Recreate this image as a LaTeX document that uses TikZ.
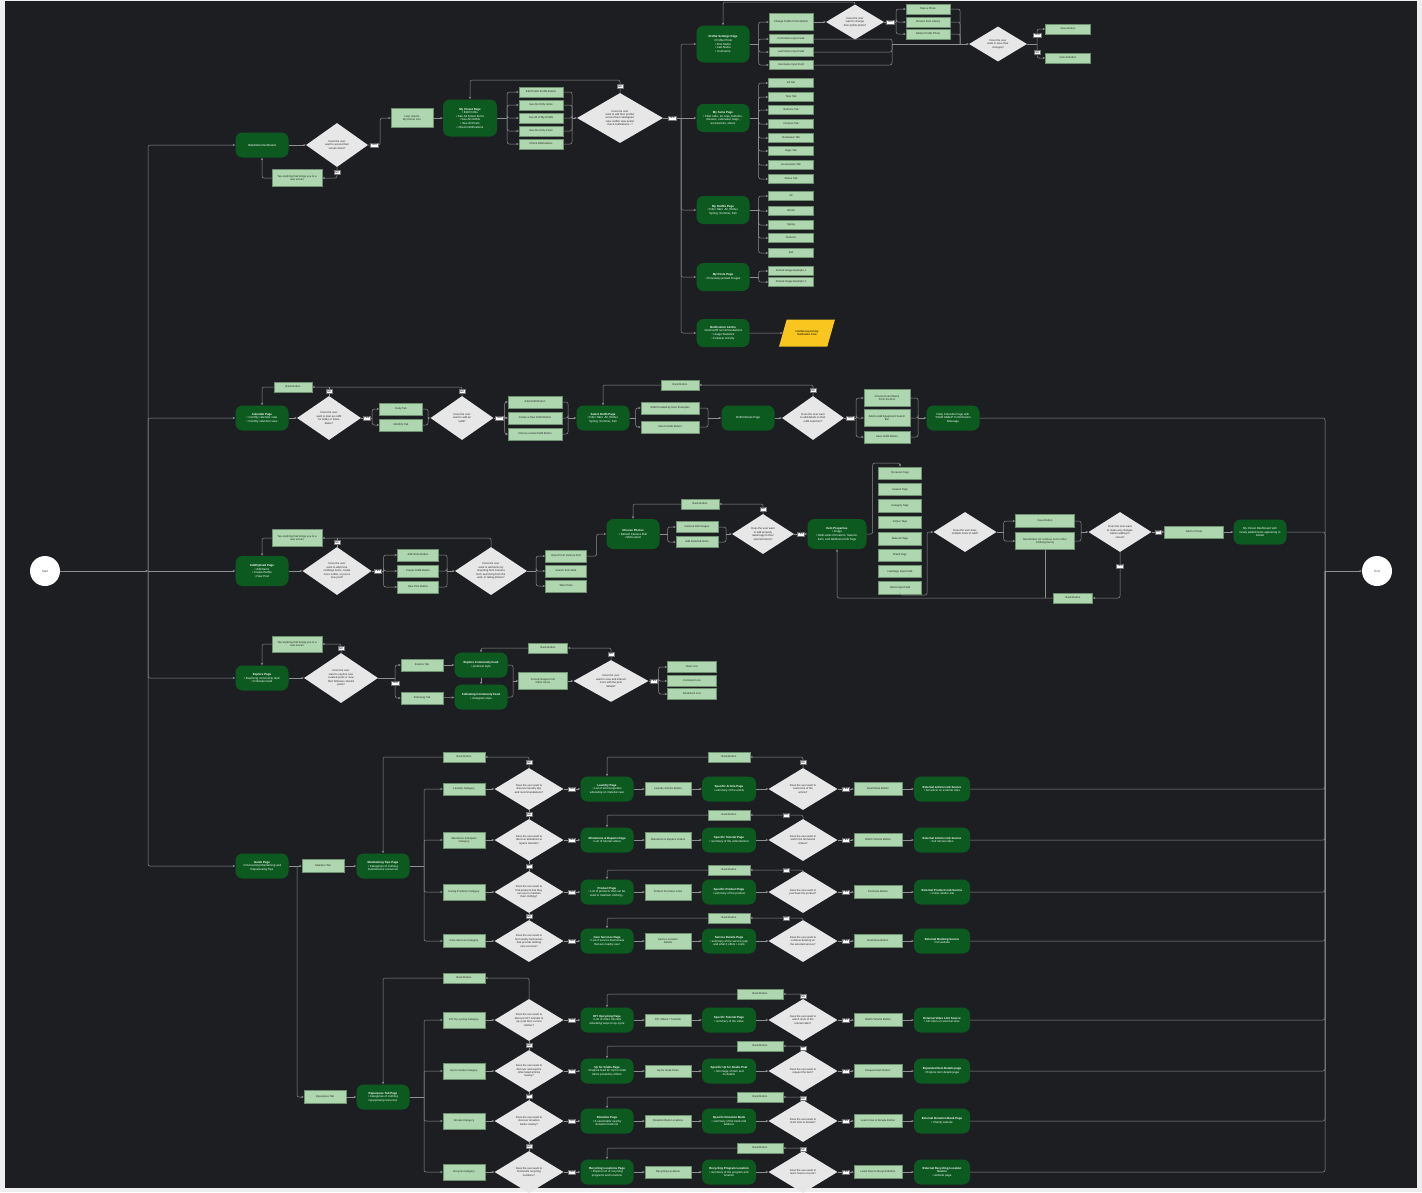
\documentclass[tikz,border=0pt]{standalone}
\usepackage{fontspec}
\setmainfont{Liberation Sans}
\usepackage{tikz}
\usetikzlibrary{shapes.geometric, arrows.meta, positioning}
\definecolor{BgDark}{HTML}{1D1E22}
\definecolor{EdgeLight}{HTML}{EEEEEE}
\definecolor{PageGreen}{HTML}{0C5A20}
\definecolor{BtnGreen}{HTML}{AED6AF}
\definecolor{BtnEdge}{HTML}{6F9171}
\definecolor{AskGray}{HTML}{E7E7E7}
\definecolor{LineGray}{HTML}{8F8F8F}
\definecolor{FlagYellow}{HTML}{F8C61E}

\begin{document}
\begin{tikzpicture}[
    x=1pt, y=-1pt,
    % Dark green screens
    page/.style = {
        rectangle, rounded corners=7pt, fill=PageGreen, text=white,
        align=center, font=\fontsize{2.9}{3.6}\selectfont,
        minimum width=53pt, minimum height=25pt, inner sep=1pt
    },
    % Light green buttons, tabs and categories
    btn/.style = {
        rectangle, fill=BtnGreen, draw=BtnEdge, line width=0.4pt,
        align=center, font=\fontsize{2.7}{3.3}\selectfont, text=black!85,
        minimum width=44pt, minimum height=10pt, inner sep=0.5pt
    },
    tagbox/.style = {btn, minimum width=43pt, minimum height=12.5pt},
    % Decisions
    ask/.style = {
        diamond, fill=AskGray, align=center, text=black!85,
        font=\fontsize{2.7}{3.4}\selectfont,
        minimum width=69pt, minimum height=42pt, inner sep=0pt
    },
    % YES / NO tags sitting on the connectors
    yn/.style = {
        rectangle, sharp corners, fill=white, draw=black!55, line width=0.3pt,
        font=\fontsize{2.6}{3}\selectfont, inner xsep=1pt, inner ysep=1.1pt, text=black
    },
    ends/.style = {circle, fill=white, minimum size=30pt, inner sep=0pt,
        font=\fontsize{3}{3.6}\selectfont, text=black!70},
    flag/.style = {
        trapezium, trapezium left angle=65, trapezium right angle=115,
        trapezium stretches=true, fill=FlagYellow, align=center,
        font=\fontsize{2.7}{3.3}\selectfont, minimum width=56pt, minimum height=27pt
    },
    arr/.style = {-{Stealth[length=2.6pt, width=2.2pt]}, line width=0.5pt,
        draw=LineGray, rounded corners=2pt},
    link/.style = {line width=0.5pt, draw=LineGray, rounded corners=2pt},
]

% --- 0. CANVAS ---
\fill[EdgeLight] (0,0) rectangle (1422,1192);
\fill[BgDark] (5,1) rectangle (1417,1188);
\useasboundingbox (0,0) rectangle (1422,1192);

% --- 1. START / END ---
\node[ends] (start) at (45,571) {Start};
\node[ends] (finish) at (1377,571) {End};
\coordinate (hubL) at (148,571);
\coordinate (hubR) at (1325,571);

% --- 2. CLOSET FLOW ---
\node[page] (wardrobe) at (262,145) {Wardrobe Dashboard};
\node[ask, minimum width=62pt, minimum height=44pt] (qcloset) at (337,145) {Does the user\\want to access their\\virtual closet?};
\node[btn, minimum width=42pt, minimum height=19pt] (pickcloset) at (412,118) {User selects\\My Closet Icon};
\node[btn, minimum width=50pt, minimum height=17pt] (tapdash) at (297,178) {Tap anything that brings you to a\\new screen};
\node[page, minimum width=54pt, minimum height=37pt] (closet) at (470,118) {\textbf{My Closet Page}\\• Edit Profile\\• See All Closet Items\\• See All Outfits\\• See All Posts\\• Check Notifications};
\node[btn, minimum height=9.5pt] (editbtn) at (541,92) {Edit Profile Profile Button};
\node[btn, minimum height=9.5pt] (itemsbtn) at (541,105) {See All of My Items};
\node[btn, minimum height=9.5pt] (outfitsbtn) at (541,118) {See All of My Outfits};
\node[btn, minimum height=9.5pt] (postsbtn) at (541,131) {See All of My Posts};
\node[btn, minimum height=9.5pt] (notifbtn) at (541,144) {Check Notifications};
\node[ask, minimum width=86pt, minimum height=50pt] (qmenu) at (620,118) {Does the user\\want to edit their profile/\\access their catalogues/\\view outfits/ view posts/\\check notifications...?};
\coordinate (menuloop) at (620,80);
\coordinate (menuhub) at (681,118);
\coordinate (closetjoin) at (572,118);

% Profile settings
\node[page, minimum height=37pt] (profile) at (723,44) {\textbf{Profile Settings Page}\\• Profile Photo\\• First Name\\• Last Name\\• Username};
\node[btn, minimum height=17pt] (photobtn) at (791,22) {Change Profile Photo Button};
\node[btn, minimum height=9pt] (firstname) at (791,39) {First Name Input Field};
\node[btn, minimum height=9pt] (lastname) at (791,52) {Last Name Input Field};
\node[btn, minimum height=9pt] (username) at (791,65) {Username Input Field};
\node[ask, minimum width=58pt, minimum height=35pt] (qphoto) at (855,22) {Does the user\\want to change\\their profile photo?};
\node[btn, minimum height=10pt] (takephoto) at (928,9) {Take a Photo};
\node[btn, minimum height=10pt] (library) at (928,22) {Choose from Library};
\node[btn, minimum height=10pt] (delphoto) at (928,34) {Delete Profile Photo};
\node[ask, minimum width=58pt, minimum height=35pt] (qsave) at (998,44) {Does the user\\want to save their\\changes?};
\node[btn, minimum width=45pt, minimum height=9.5pt] (savebtn) at (1068,29) {Save Button};
\node[btn, minimum width=45pt, minimum height=9.5pt] (cancelbtn) at (1068,58) {Cancel Button};
\coordinate (photoloop) at (855,2);
\coordinate (photojoin) at (960,44);
\coordinate (fieldjoin) at (892,44);

% Catalogue pages
\node[page, minimum height=28pt] (items) at (723,118) {\textbf{My Items Page}\\• Filter tabs: all, tops, bottoms,\\dresses, outerwear, bags,\\accessories, shoes};
\node[btn, minimum width=45pt, minimum height=9pt] (alltab) at (791,83) {All Tab};
\node[btn, minimum width=45pt, minimum height=9pt] (topstab) at (791,97) {Tops Tab};
\node[btn, minimum width=45pt, minimum height=9pt] (bottomstab) at (791,110) {Bottoms Tab};
\node[btn, minimum width=45pt, minimum height=9pt] (dresstab) at (791,124) {Dresses Tab};
\node[btn, minimum width=45pt, minimum height=9pt] (outertab) at (791,138) {Outerwear Tab};
\node[btn, minimum width=45pt, minimum height=9pt] (bagstab) at (791,151) {Bags Tab};
\node[btn, minimum width=45pt, minimum height=9pt] (accesstab) at (791,165) {Accessories Tab};
\node[btn, minimum width=45pt, minimum height=9pt] (shoestab) at (791,179) {Shoes Tab};

\node[page, minimum height=28pt] (outfits) at (723,210) {\textbf{My Outfits Page}\\• Filter Tabs: All, Winter,\\Spring, Summer, Fall};
\node[btn, minimum width=45pt, minimum height=9pt] (fitall) at (791,196) {All};
\node[btn, minimum width=45pt, minimum height=9pt] (fitwinter) at (791,211) {Winter};
\node[btn, minimum width=45pt, minimum height=9pt] (fitspring) at (791,225) {Spring};
\node[btn, minimum width=45pt, minimum height=9pt] (fitsummer) at (791,238) {Summer};
\node[btn, minimum width=45pt, minimum height=9pt] (fitfall) at (791,253) {Fall};

\node[page, minimum height=28pt] (posts) at (723,277) {\textbf{My Posts Page}\\• Previously posted images};
\node[btn, minimum width=45pt, minimum height=9pt] (postex1) at (791,271) {Posted Image Example 1};
\node[btn, minimum width=45pt, minimum height=9pt] (postex2) at (791,282) {Posted Image Example 2};

\node[page, minimum height=28pt] (notif) at (723,333) {\textbf{Notification Centre}\\• Item/outfit recommendations\\• Usage Statistics\\• Follower Activity};
\node[flag] (notifflow) at (807,333) {Interface/upcoming\\Notification Flow};

% --- 3. CALENDAR FLOW ---
\node[page] (calendar) at (262,418) {\textbf{Calendar Page}\\• monthly calendar view\\• monthly selection view};
\node[ask, minimum width=64pt, minimum height=44pt] (qplan) at (329,418) {Does the user\\want to plan an outfit\\for today or future\\dates?};
\node[btn, minimum width=38pt] (calback) at (293,387) {Back Button};
\node[btn, minimum width=43pt, minimum height=12pt] (dailytab) at (401,409) {Daily Tab};
\node[btn, minimum width=43pt, minimum height=12pt] (monthtab) at (401,425) {Monthly Tab};
\node[ask, minimum width=63pt, minimum height=44pt] (qaddfit) at (462,418) {Does the user\\want to add an\\outfit?};
\node[btn, minimum width=54pt, minimum height=12pt] (addfit) at (535,402) {Add Outfit Button};
\node[btn, minimum width=54pt, minimum height=12pt] (createfit) at (535,418) {Create a New Outfit Button};
\node[btn, minimum width=54pt, minimum height=12pt] (choosefit) at (535,434) {Choose a New Outfit Button};
\node[page] (selfit) at (603,418) {\textbf{Select Outfit Page}\\• Filter Tabs: All, Winter,\\Spring, Summer, Fall};
\node[btn, minimum width=58pt, minimum height=12pt] (userfits) at (670,408) {Outfit Created by User Examples};
\node[btn, minimum width=58pt, minimum height=12pt] (selfitbtn) at (670,427) {Select Outfit Button};
\node[btn, minimum width=38pt] (fitback) at (680,385) {Back Button};
\node[page] (fitdetail) at (748,418) {Outfit Details Page};
\node[ask, minimum width=62pt, minimum height=44pt] (qdetail) at (813,418) {Does the user want\\to add details to their\\outfit selection?};
\node[btn, minimum width=46pt, minimum height=17pt] (eventname) at (887,398) {Choose Event Name\\Fill in the Box};
\node[btn, minimum width=46pt, minimum height=17pt] (equipment) at (887,418) {Add to Add Equipment Search\\Bar};
\node[btn, minimum width=46pt, minimum height=12pt] (savefit) at (887,437) {Save Outfit Button};
\node[page] (dailycal) at (953,418) {Daily Calendar Page with\\``Outfit Added'' Confirmation\\Message};
\coordinate (planjoin) at (428,418);
\coordinate (addjoin) at (568,418);
\coordinate (fitjoin) at (708,418);
\coordinate (detailjoin) at (918,418);

% --- 4. ADD / UPLOAD FLOW ---
\node[page, minimum height=30pt] (addpage) at (262,571) {\textbf{Add/Upload Page}\\• Add Items\\• Create Outfits\\• New Post};
\node[btn, minimum width=50pt, minimum height=17pt] (tapadd) at (297,538) {Tap anything that brings you to a\\new screen};
\node[ask, minimum width=69pt, minimum height=48pt] (qadd) at (337,571) {Does the user\\want to add more\\clothings items, create\\more outfits, or post a\\new post?};
\node[btn, minimum width=41pt, minimum height=12pt] (additems) at (418,555) {Add Items Button};
\node[btn, minimum width=41pt, minimum height=12pt] (createoutfit) at (418,571) {Create Outfit Button};
\node[btn, minimum width=41pt, minimum height=12pt] (newpost) at (418,587) {New Post Button};
\node[ask, minimum width=72pt, minimum height=48pt] (qsource) at (491,571) {Does the user\\want to add items by\\importing from Camera\\Roll, searching from the\\web, or taking photos?};
\node[btn, minimum width=41pt, minimum height=12pt] (camroll) at (566,556) {Import from Camera Roll};
\node[btn, minimum width=41pt, minimum height=12pt] (websearch) at (566,571) {Search from Web};
\node[btn, minimum width=41pt, minimum height=12pt] (takepic) at (566,586) {Take Photo};
\node[page, minimum height=30pt] (photos) at (633,534) {\textbf{Choose Photos}\\• Default Camera Roll\\• Multi-select};
\node[btn, minimum width=42pt, minimum height=11pt] (rollimgs) at (697,527) {Camera Roll Images};
\node[btn, minimum width=42pt, minimum height=11pt] (addsel) at (697,542) {Add Selected Items};
\node[btn, minimum width=38pt] (photoback) at (700,504) {Back Button};
\node[ask, minimum width=62pt, minimum height=40pt] (qtags) at (763,534) {Does the user want\\to add property\\detail tags to their\\selected items?};
\node[page, minimum width=59pt, minimum height=30pt] (props) at (837,534) {\textbf{Item Properties}\\• Image\\• Multi-select Occasion, Season,\\Item, and Additional Info Tags};
\node[tagbox] (occtag) at (900,473) {Occasion Tags};
\node[tagbox, below=3.5pt of occtag] (seasontag) {Season Tags};
\node[tagbox, below=3.5pt of seasontag] (cattag) {Category Tags};
\node[tagbox, below=3.5pt of cattag] (colourtag) {Colour Tags};
\node[tagbox, below=3.5pt of colourtag] (materialtag) {Material Tags};
\node[tagbox, below=3.5pt of materialtag] (brandtag) {Brand Tags};
\node[tagbox, below=3.5pt of brandtag] (hashtag) {Hashtags Input Field};
\node[tagbox, below=3.5pt of hashtag] (notestag) {Notes Input Field};
\node[ask, minimum width=63pt, minimum height=40pt] (qmore) at (965,532) {Does the user have\\multiple items to add?};
\node[btn, minimum width=59pt, minimum height=13pt] (saveitem) at (1045,521) {Save Button};
\node[btn, minimum width=59pt, minimum height=17pt] (nextitem) at (1045,541) {Next Button (to continue on for other\\Clothing Items)};
\node[ask, minimum width=63pt, minimum height=40pt] (qchange) at (1120,532) {Does the user want\\to make any changes\\before adding to\\closet?};
\node[btn, minimum width=59pt, minimum height=12pt] (tocloset) at (1194,532) {Add to Closet};
\node[page] (closetdash) at (1260,532) {My Closet Dashboard with\\newly added items appearing in\\Closet};
\node[btn, minimum width=39pt] (itemback) at (1073,598) {Back Button};
\coordinate (srcjoin) at (447,571);
\coordinate (rolljoin) at (726,534);
\coordinate (tagtop) at (900,463);
\coordinate (tagbottom) at (927,595);
\coordinate (changejoin) at (1081,532);

% --- 5. EXPLORE FLOW ---
\node[page] (explore) at (262,678) {\textbf{Explore Page}\\• Exploring community feed\\• Followers feed};
\node[btn, minimum width=50pt, minimum height=16pt] (tapexp) at (297,644) {Tap anything that brings you to a\\new screen};
\node[ask, minimum width=74pt, minimum height=50pt] (qexplore) at (341,678) {Does the user\\want to explore new\\curated posts or view\\their followers shared\\posts?};
\node[btn, minimum width=42pt, minimum height=12pt] (exptab) at (422,665) {Explore Tab};
\node[btn, minimum width=42pt, minimum height=12pt] (foltab) at (422,698) {Following Tab};
\node[page] (expfeed) at (481,665) {\textbf{Explore Community Feed}\\• pinterest style};
\node[page] (folfeed) at (481,697) {\textbf{Following Community Feed}\\• instagram style};
\node[btn, minimum width=49pt, minimum height=17pt] (posted) at (543,681) {Posted Images from\\Other Users};
\node[ask, minimum width=75pt, minimum height=40pt] (qpost) at (611,681) {Does the user\\want to view and interact\\more with the post\\details?};
\node[btn, minimum width=39pt] (postback) at (548,648) {Back Button};
\node[btn, minimum width=49pt, minimum height=11pt] (heart) at (692,667) {Heart Icon};
\node[btn, minimum width=49pt, minimum height=11pt] (comment) at (692,681) {Comment Icon};
\node[btn, minimum width=49pt, minimum height=11pt] (bookmark) at (692,694) {Bookmark Icon};
\coordinate (feedjoin) at (513,681);

% --- 6. GUIDE: MAINTAIN ---
\node[page] (guide) at (262,866) {\textbf{Guide Page}\\• Discovering Maintaining and\\Repurposing Tips};
\node[btn, minimum width=42pt, minimum height=13pt] (maintab) at (323,866) {Maintain Tab};
\node[page] (maintain) at (383,866) {\textbf{Maintaining Tips Page}\\• Categories of clothing\\maintenance resources};
\node[btn, minimum width=42pt] (maintback) at (464,757) {Back Button};
\coordinate (guidehub) at (297,866);
\coordinate (mainhub) at (424,866);

\node[btn, minimum width=42pt, minimum height=12pt] (laundrycat) at (464,789) {Laundry Category};
\node[ask] (qlaundry) at (529,789) {Does the user want to\\discover laundry tips\\and recommendations?};
\node[page] (laundry) at (607,789) {\textbf{Laundry Page}\\• List of articles/guides\\educating on material care};
\node[btn, minimum width=46pt, minimum height=13pt] (laundrybtn) at (668,789) {Laundry Articles Button};
\node[page, minimum width=54pt] (article) at (729,789) {\textbf{Specific Article Page}\\• summary of the article};
\node[btn, minimum width=42pt] (articleback) at (729,757) {Back Button};
\node[ask] (qarticle) at (803,789) {Does the user want to\\read more of the\\article?};
\node[btn, minimum width=48pt, minimum height=13pt] (readmore) at (878,789) {Read More Button};
\node[page, minimum width=56pt] (extarticle) at (942,789) {\textbf{External Article Link Source}\\• full article on external sites};

\node[btn, minimum width=42pt, minimum height=16pt] (altercat) at (464,840) {Alterations \& Repairs\\Category};
\node[ask] (qalter) at (529,840) {Does the user want to\\discover alterations \&\\repairs tutorials?};
\node[page] (alter) at (607,840) {\textbf{Alterations \& Repairs Page}\\• List of tutorial videos};
\node[btn, minimum width=46pt, minimum height=16pt] (alterbtn) at (668,840) {Alterations \& Repairs Videos};
\node[page, minimum width=54pt] (tutorial) at (729,840) {\textbf{Specific Tutorial Page}\\• summary of the video/tutorial};
\node[btn, minimum width=42pt] (tutorialback) at (729,815) {Back Button};
\node[ask] (qtutorial) at (803,840) {Does the user want to\\watch the full tutorial\\videos?};
\node[btn, minimum width=48pt, minimum height=13pt] (watchbtn) at (878,840) {Watch Tutorial Button};
\node[page, minimum width=56pt] (exttutorial) at (942,840) {\textbf{External Article Link Source}\\• full tutorial video};

\node[btn, minimum width=42pt, minimum height=16pt] (productcat) at (464,892) {Caring Products Category};
\node[ask] (qproduct) at (529,892) {Does the user want to\\find products that they\\can use to maintain\\their clothing?};
\node[page] (product) at (607,892) {\textbf{Product Page}\\• List of products that can be\\used to maintain clothing...};
\node[btn, minimum width=46pt, minimum height=16pt] (productbtn) at (668,892) {Product Purchase Links};
\node[page, minimum width=54pt] (specproduct) at (729,892) {\textbf{Specific Product Page}\\• summary of the product};
\node[btn, minimum width=42pt] (productback) at (729,870) {Back Button};
\node[ask] (qbuy) at (803,892) {Does the user want to\\purchase the product?};
\node[btn, minimum width=48pt, minimum height=13pt] (buybtn) at (878,892) {Purchase Button};
\node[page, minimum width=56pt] (extproduct) at (942,892) {\textbf{External Product Link Source}\\• online retailer site};

\node[btn, minimum width=42pt, minimum height=13pt] (servicecat) at (464,941) {Care Services Category};
\node[ask] (qservice) at (529,941) {Does the user want to\\find nearby businesses\\that provide clothing\\care services?};
\node[page] (service) at (607,941) {\textbf{Care Services Page}\\• List of service businesses\\that are nearby user};
\node[btn, minimum width=46pt, minimum height=16pt] (servicebtn) at (668,941) {Service Location\\Details};
\node[page, minimum width=54pt] (specservice) at (729,941) {\textbf{Service Details Page}\\• summary of the service type\\and what it offers / costs};
\node[btn, minimum width=42pt] (serviceback) at (729,918) {Back Button};
\node[ask] (qbook) at (803,941) {Does the user want to\\continue booking on\\the selected service?};
\node[btn, minimum width=48pt, minimum height=13pt] (bookbtn) at (878,941) {Book Now Button};
\node[page, minimum width=56pt] (extbook) at (942,941) {\textbf{External Booking Source}\\• full website};

% --- 7. GUIDE: REPURPOSE ---
\node[btn, minimum width=42pt, minimum height=13pt] (reptab) at (325,1097) {Repurpose Tab};
\node[page] (repurpose) at (383,1097) {\textbf{Repurpose Tab Page}\\• Categories of clothing\\repurposing resources};
\node[btn, minimum width=42pt] (repback) at (464,978) {Back Button};
\coordinate (rephub) at (424,1097);

\node[btn, minimum width=42pt, minimum height=16pt] (diycat) at (464,1020) {DIY Up-cycling Category};
\node[ask] (qdiy) at (529,1020) {Does the user want to\\discover DIY tutorials to\\up-cycle their current\\clothes?};
\node[page] (diy) at (607,1020) {\textbf{DIY Upcycling Page}\\• List of video tutorials\\educating ways to up-cycle};
\node[btn, minimum width=46pt, minimum height=12pt] (diybtn) at (668,1020) {DIY Videos / Tutorials};
\node[page, minimum width=54pt] (diytut) at (729,1020) {\textbf{Specific Tutorial Page}\\• summary of the video};
\node[btn, minimum width=46pt] (diyback) at (760,994) {Back Button};
\node[ask] (qdiytut) at (803,1020) {Does the user want to\\watch more of the\\tutorial video?};
\node[btn, minimum width=48pt, minimum height=13pt] (diywatch) at (878,1020) {Watch Tutorial Button};
\node[page, minimum width=56pt] (extvideo) at (942,1020) {\textbf{External Video Link Source}\\• full video on external sites};

\node[btn, minimum width=42pt, minimum height=16pt] (grabcat) at (464,1071) {Up for Grabs Category};
\node[ask] (qgrab) at (529,1071) {Does the user want to\\discover and explore\\other listed articles\\nearby?};
\node[page] (grab) at (607,1071) {\textbf{Up for Grabs Page}\\• Explore feed for Up for Grab\\Items posted by others};
\node[btn, minimum width=46pt, minimum height=12pt] (grabbtn) at (668,1071) {Up for Grab Posts};
\node[page, minimum width=54pt] (grabpost) at (729,1071) {\textbf{Specific Up for Grabs Post}\\• full image of item and\\its details};
\node[btn, minimum width=46pt] (grabback) at (760,1046) {Back Button};
\node[ask] (qrequest) at (803,1071) {Does the user want to\\request the item?};
\node[btn, minimum width=48pt, minimum height=13pt] (requestbtn) at (878,1071) {Request Item Button};
\node[page, minimum width=56pt] (extitem) at (942,1071) {\textbf{Expanded Item Details page}\\• Explore item details page};

\node[btn, minimum width=42pt, minimum height=16pt] (donatecat) at (464,1121) {Donate Category};
\node[ask] (qdonate) at (529,1121) {Does the user want to\\discover donation\\banks nearby?};
\node[page] (donate) at (607,1121) {\textbf{Donation Page}\\• A searchable nearby\\donation bank list};
\node[btn, minimum width=46pt, minimum height=12pt] (donatebtn) at (668,1121) {Donation Bank Locations};
\node[page, minimum width=54pt] (bank) at (729,1121) {\textbf{Specific Donation Bank}\\• summary of the bank and\\address};
\node[btn, minimum width=46pt] (bankback) at (760,1097) {Back Button};
\node[ask] (qhowdonate) at (803,1121) {Does the user want to\\learn how to donate?};
\node[btn, minimum width=48pt, minimum height=13pt] (donatehow) at (878,1121) {Learn How to Donate Button};
\node[page, minimum width=56pt] (extbank) at (942,1121) {\textbf{External Donation Bank Page}\\• Charity website};

\node[btn, minimum width=42pt, minimum height=16pt] (recyclecat) at (464,1172) {Recycle Category};
\node[ask] (qrecycle) at (529,1172) {Does the user want to\\find textile recycling\\locations?};
\node[page] (recycle) at (607,1172) {\textbf{Recycling Locations Page}\\• Explore list of recycling\\programs and locations};
\node[btn, minimum width=46pt, minimum height=12pt] (recyclebtn) at (668,1172) {Recycling Locations};
\node[page, minimum width=54pt] (program) at (729,1172) {\textbf{Recycling Program Location}\\• summary of the program and\\location};
\node[btn, minimum width=46pt] (programback) at (760,1148) {Back Button};
\node[ask] (qhowrecycle) at (803,1172) {Does the user want to\\learn how to recycle?};
\node[btn, minimum width=48pt, minimum height=13pt] (recyclehow) at (878,1172) {Learn How to Recycle Button};
\node[page, minimum width=56pt] (extrecycle) at (942,1172) {\textbf{External Recycling Location}\\\textbf{Source}\\• website page};

% --- 8. CONNECTORS ---
% main trunks
\draw[arr] (start) -- (hubL);
\draw[arr] (hubL) -- (addpage);
\draw[arr] (hubL) |- (wardrobe);
\draw[arr] (hubL) |- (calendar);
\draw[arr] (hubL) |- (explore);
\draw[arr] (hubL) |- (guide);
\draw[arr] (hubR) -- (finish);

% closet
\draw[arr] (wardrobe) -- (qcloset);
\draw[arr] (qcloset.east) -- node[yn]{YES} ++(12,0) |- (pickcloset.west);
\draw[arr] (qcloset.south) |- node[yn, pos=0.25]{NO} (tapdash.east);
\draw[arr] (tapdash.west) -| (wardrobe.south);
\draw[arr] (pickcloset) -- (closet);
\draw[link] (closet.east) -- ++(10,0) coordinate (closetfan);
\foreach \b in {editbtn, itemsbtn, outfitsbtn, postsbtn, notifbtn} {
    \draw[arr] (closetfan) |- (\b.west);
    \draw[link] (\b.east) -| (closetjoin);
}
\draw[arr] (closetjoin) -- (qmenu);
\draw[arr] (qmenu.north) -- node[yn]{NO} (menuloop) -| (closet.north);
\draw[link] (qmenu.east) -- node[yn]{YES} (menuhub);
\draw[arr] (menuhub) |- (profile.west);
\draw[arr] (menuhub) -- (items);
\draw[arr] (menuhub) |- (outfits.west);
\draw[arr] (menuhub) |- (posts.west);
\draw[arr] (menuhub) |- (notif.west);

% profile settings
\draw[link] (profile.east) -- ++(9,0) coordinate (profilefan);
\foreach \b in {photobtn, firstname, lastname, username}
    \draw[arr] (profilefan) |- (\b.west);
\draw[arr] (photobtn) -- (qphoto);
\draw[link] (qphoto.east) -- node[yn]{YES} ++(12,0) coordinate (photofan);
\foreach \b in {takephoto, library, delphoto} {
    \draw[arr] (photofan) |- (\b.west);
    \draw[link] (\b.east) -| (photojoin);
}
\foreach \b in {firstname, lastname, username}
    \draw[link] (\b.east) -| (fieldjoin);
\draw[arr] (fieldjoin) -- (qsave);
\draw[arr] (qphoto.north) -- (photoloop) -| (profile.north);
\draw[link] (qsave.east) -- ++(10,0) coordinate (savefan);
\draw[arr] (savefan) |- node[yn, pos=0.3]{YES} (savebtn.west);
\draw[arr] (savefan) |- node[yn, pos=0.3]{NO} (cancelbtn.west);

% catalogues
\draw[link] (items.east) -- ++(9,0) coordinate (itemsfan);
\foreach \b in {alltab, topstab, bottomstab, dresstab, outertab, bagstab, accesstab, shoestab}
    \draw[arr] (itemsfan) |- (\b.west);
\draw[link] (outfits.east) -- ++(9,0) coordinate (outfitsfan);
\foreach \b in {fitall, fitwinter, fitspring, fitsummer, fitfall}
    \draw[arr] (outfitsfan) |- (\b.west);
\draw[link] (posts.east) -- ++(9,0) coordinate (postsfan);
\foreach \b in {postex1, postex2}
    \draw[arr] (postsfan) |- (\b.west);
\draw[arr] (notif) -- (notifflow);

% calendar
\draw[arr] (calendar) -- (qplan);
\draw[link] (qplan.north) -- node[yn]{NO} (qplan.north |- calback);
\draw[arr] (qaddfit.north) |- node[yn, pos=0.25]{NO} (calback.east);
\draw[arr] (calback.west) -| (calendar.north);
\draw[link] (qplan.east) -- node[yn]{YES} ++(11,0) coordinate (planfan);
\foreach \b in {dailytab, monthtab} {
    \draw[arr] (planfan) |- (\b.west);
    \draw[link] (\b.east) -| (planjoin);
}
\draw[arr] (planjoin) -- (qaddfit);
\draw[link] (qaddfit.east) -- node[yn]{YES} ++(11,0) coordinate (addfan);
\foreach \b in {addfit, createfit, choosefit} {
    \draw[arr] (addfan) |- (\b.west);
    \draw[link] (\b.east) -| (addjoin);
}
\draw[arr] (addjoin) -- (selfit);
\draw[link] (selfit.east) -- ++(6,0) coordinate (selfan);
\foreach \b in {userfits, selfitbtn} {
    \draw[arr] (selfan) |- (\b.west);
    \draw[link] (\b.east) -| (fitjoin);
}
\draw[arr] (fitjoin) -- (fitdetail);
\draw[arr] (fitdetail) -- (qdetail);
\draw[arr] (qdetail.north) |- node[yn, pos=0.25]{NO} (fitback.east);
\draw[arr] (fitback.west) -| (selfit.north);
\draw[link] (qdetail.east) -- node[yn]{YES} ++(12,0) coordinate (detailfan);
\foreach \b in {eventname, equipment, savefit} {
    \draw[arr] (detailfan) |- (\b.west);
    \draw[link] (\b.east) -| (detailjoin);
}
\draw[arr] (detailjoin) -- (dailycal);
\draw[link] (dailycal.east) -| (hubR);

% add / upload
\draw[arr] (addpage) -- (qadd);
\draw[link] (qadd.north) -- node[yn]{NO} (qadd.north |- tapadd);
\draw[arr] (qsource.north) |- (tapadd.east);
\draw[arr] (tapadd.west) -| (addpage.north);
\draw[link] (qadd.east) -- node[yn]{YES} ++(12,0) coordinate (addfan2);
\foreach \b in {additems, createoutfit, newpost} {
    \draw[arr] (addfan2) |- (\b.west);
    \draw[link] (\b.east) -| (srcjoin);
}
\draw[arr] (srcjoin) -- (qsource);
\draw[link] (qsource.east) -- ++(9,0) coordinate (srcfan);
\foreach \b in {camroll, websearch, takepic}
    \draw[arr] (srcfan) |- (\b.west);
\draw[arr] (camroll.east) -- ++(10,0) |- (photos.west);
\draw[link] (photos.east) -- ++(8,0) coordinate (photofan2);
\foreach \b in {rollimgs, addsel} {
    \draw[arr] (photofan2) |- (\b.west);
    \draw[link] (\b.east) -| (rolljoin);
}
\draw[arr] (rolljoin) -- (qtags);
\draw[arr] (qtags) -- node[yn]{YES} (props);
\draw[arr] (qtags.north) |- node[yn, pos=0.25]{NO} (photoback.east);
\draw[arr] (photoback.west) -| (photos.north);
\draw[arr] (props.east) -- ++(6,0) |- (tagtop) -- (occtag.north);
\draw[arr] (notestag.south) |- (tagbottom) |- (qmore.west);
\draw[link] (qmore.east) -- ++(7,0) coordinate (morefan);
\foreach \b in {saveitem, nextitem} {
    \draw[arr] (morefan) |- (\b.west);
    \draw[link] (\b.east) -| (changejoin);
}
\draw[arr] (changejoin) -- (qchange);
\draw[arr] (qchange) -- node[yn]{NO} (tocloset);
\draw[arr] (tocloset) -- (closetdash);
\draw[link] (closetdash.east) -| (hubR);
\draw[arr] (qchange.south) |- node[yn, pos=0.15]{YES} (itemback.east);
\draw[link] (nextitem.south) -- (nextitem.south |- itemback);
\draw[arr] (itemback.west) -| (props.south);

% explore
\draw[arr] (explore) -- (qexplore);
\draw[arr] (qexplore.north) |- node[yn, pos=0.25]{NO} (tapexp.east);
\draw[arr] (tapexp.west) -| (explore.north);
\draw[link] (qexplore.east) -- ++(17,0) coordinate (expfan);
\draw[arr] (expfan) |- (exptab.west);
\draw[arr] (expfan) |- node[yn, pos=0.12]{YES} (foltab.west);
\draw[arr] (exptab) -- (expfeed);
\draw[arr] (foltab) -- (folfeed);
\draw[arr] (expfeed) -- (folfeed);
\draw[link] (expfeed.east) -| (feedjoin);
\draw[link] (folfeed.east) -| (feedjoin);
\draw[arr] (feedjoin) -- (posted);
\draw[arr] (posted) -- (qpost);
\draw[arr] (qpost.north) |- node[yn, pos=0.25]{NO} (postback.east);
\draw[arr] (postback.west) -| (expfeed.north);
\draw[link] (qpost.east) -- node[yn]{YES} ++(10,0) coordinate (postfan);
\foreach \b in {heart, comment, bookmark}
    \draw[arr] (postfan) |- (\b.west);

% guide
\draw[link] (guide) -- (guidehub);
\draw[arr] (guidehub) -- (maintab);
\draw[arr] (guidehub) |- (reptab);
\draw[arr] (maintab) -- (maintain);
\draw[arr] (reptab) -- (repurpose);
\draw[link] (maintain) -- (mainhub);
\draw[link] (repurpose) -- (rephub);
\foreach \c in {laundrycat, altercat, productcat, servicecat}
    \draw[arr] (mainhub) |- (\c.west);
\foreach \c in {diycat, grabcat, donatecat, recyclecat}
    \draw[arr] (rephub) |- (\c.west);

% maintain: NO chain back to the tips page
\draw[arr] (qlaundry.north) |- node[yn, pos=0.25]{NO} (maintback.east);
\draw[arr] (maintback.west) -| (maintain.north);
\draw[link] (qalter.north) -- node[yn]{NO} (qlaundry.south);
\draw[link] (qproduct.north) -- node[yn]{NO} (qalter.south);
\draw[link] (qservice.north) -- node[yn]{NO} (qproduct.south);

% repurpose: NO chain back to the tab page
\draw[arr] (qdiy.north) |- (repback.east);
\draw[arr] (repback.west) -| (repurpose.north);
\draw[link] (qgrab.north) -- node[yn]{NO} (qdiy.south);
\draw[link] (qdonate.north) -- node[yn]{NO} (qgrab.south);
\draw[link] (qrecycle.north) -- node[yn]{NO} (qdonate.south);

% maintain rows
\draw[arr] (laundrycat) -- (qlaundry);
\draw[arr] (qlaundry) -- node[yn]{YES} (laundry);
\draw[arr] (laundry) -- (laundrybtn);
\draw[arr] (laundrybtn) -- (article);
\draw[arr] (article) -- (qarticle);
\draw[arr] (qarticle) -- node[yn]{YES} (readmore);
\draw[arr] (readmore) -- (extarticle);
\draw[arr] (qarticle.north) |- node[yn, pos=0.25]{NO} (articleback.east);
\draw[arr] (articleback.west) -| (laundry.north);

\draw[arr] (altercat) -- (qalter);
\draw[arr] (qalter) -- node[yn]{YES} (alter);
\draw[arr] (alter) -- (alterbtn);
\draw[arr] (alterbtn) -- (tutorial);
\draw[arr] (tutorial) -- (qtutorial);
\draw[arr] (qtutorial) -- node[yn]{YES} (watchbtn);
\draw[arr] (watchbtn) -- (exttutorial);
\draw[arr] (qtutorial.north) |- node[yn, pos=0.66]{NO} (tutorialback.east);
\draw[arr] (tutorialback.west) -| (alter.north);

\draw[arr] (productcat) -- (qproduct);
\draw[arr] (qproduct) -- node[yn]{YES} (product);
\draw[arr] (product) -- (productbtn);
\draw[arr] (productbtn) -- (specproduct);
\draw[arr] (specproduct) -- (qbuy);
\draw[arr] (qbuy) -- node[yn]{YES} (buybtn);
\draw[arr] (buybtn) -- (extproduct);
\draw[arr] (qbuy.north) |- node[yn, pos=0.66]{NO} (productback.east);
\draw[arr] (productback.west) -| (product.north);

\draw[arr] (servicecat) -- (qservice);
\draw[arr] (qservice) -- node[yn]{YES} (service);
\draw[arr] (service) -- (servicebtn);
\draw[arr] (servicebtn) -- (specservice);
\draw[arr] (specservice) -- (qbook);
\draw[arr] (qbook) -- node[yn]{YES} (bookbtn);
\draw[arr] (bookbtn) -- (extbook);
\draw[arr] (qbook.north) |- node[yn, pos=0.66]{NO} (serviceback.east);
\draw[arr] (serviceback.west) -| (service.north);

% repurpose rows
\draw[arr] (diycat) -- (qdiy);
\draw[arr] (qdiy) -- node[yn]{YES} (diy);
\draw[arr] (diy) -- (diybtn);
\draw[arr] (diybtn) -- (diytut);
\draw[arr] (diytut) -- (qdiytut);
\draw[arr] (qdiytut) -- node[yn]{YES} (diywatch);
\draw[arr] (diywatch) -- (extvideo);
\draw[arr] (qdiytut.north) |- node[yn, pos=0.25]{NO} (diyback.east);
\draw[arr] (diyback.west) -| (diy.north);

\draw[arr] (grabcat) -- (qgrab);
\draw[arr] (qgrab) -- node[yn]{YES} (grab);
\draw[arr] (grab) -- (grabbtn);
\draw[arr] (grabbtn) -- (grabpost);
\draw[arr] (grabpost) -- (qrequest);
\draw[arr] (qrequest) -- node[yn]{YES} (requestbtn);
\draw[arr] (requestbtn) -- (extitem);
\draw[arr] (qrequest.north) |- node[yn, pos=0.25]{NO} (grabback.east);
\draw[arr] (grabback.west) -| (grab.north);

\draw[arr] (donatecat) -- (qdonate);
\draw[arr] (qdonate) -- node[yn]{YES} (donate);
\draw[arr] (donate) -- (donatebtn);
\draw[arr] (donatebtn) -- (bank);
\draw[arr] (bank) -- (qhowdonate);
\draw[arr] (qhowdonate) -- node[yn]{YES} (donatehow);
\draw[arr] (donatehow) -- (extbank);
\draw[arr] (qhowdonate.north) |- node[yn, pos=0.25]{NO} (bankback.east);
\draw[arr] (bankback.west) -| (donate.north);

\draw[arr] (recyclecat) -- (qrecycle);
\draw[arr] (qrecycle) -- node[yn]{YES} (recycle);
\draw[arr] (recycle) -- (recyclebtn);
\draw[arr] (recyclebtn) -- (program);
\draw[arr] (program) -- (qhowrecycle);
\draw[arr] (qhowrecycle) -- node[yn]{YES} (recyclehow);
\draw[arr] (recyclehow) -- (extrecycle);
\draw[arr] (qhowrecycle.north) |- node[yn, pos=0.25]{NO} (programback.east);
\draw[arr] (programback.west) -| (recycle.north);

% right-hand trunk into End
\foreach \e in {extarticle, exttutorial, extproduct, extbook, extvideo, extitem, extbank, extrecycle}
    \draw[link] (\e.east) -| (hubR);

\end{tikzpicture}
\end{document}
